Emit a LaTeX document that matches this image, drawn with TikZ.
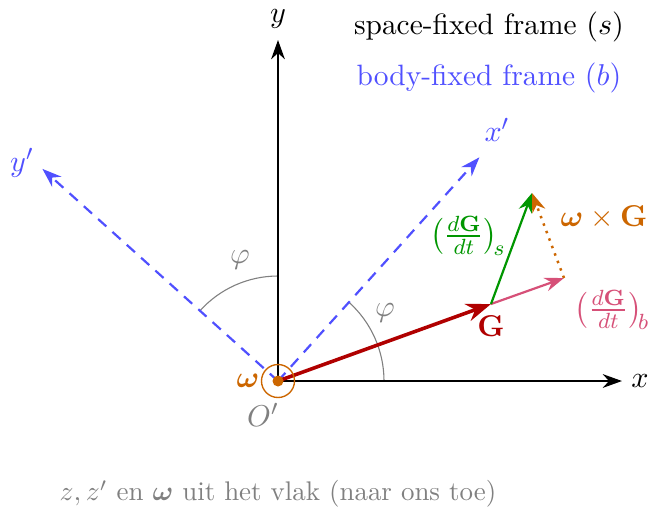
\documentclass[tikz,border=0pt]{standalone}
\usepackage{amsmath,bm}
\usetikzlibrary{arrows.meta}
\definecolor{bodyblue}{RGB}{80,80,255}
\definecolor{gred}{RGB}{176,0,0}
\definecolor{ggreen}{RGB}{0,150,0}
\definecolor{gpink}{RGB}{214,80,120}
\definecolor{gorange}{RGB}{204,102,0}
\tikzset{
  axis/.style={line width=0.8pt,-{Stealth[length=7pt,width=5pt]}},
  bodyaxis/.style={bodyblue,dashed,line width=0.8pt,dash pattern=on 4pt off 3pt,-{Stealth[length=7pt,width=5pt]}},
  anglearc/.style={gray,line width=0.4pt},
  vec/.style={line width=0.8pt,-{Stealth[length=7pt,width=5pt]}},
  lbl/.style={font=\fontsize{11}{13}\selectfont},
  toptxt/.style={font=\fontsize{10.7}{13}\selectfont},
  bottxt/.style={font=\fontsize{9.8}{12}\selectfont},
}
\begin{document}
\begin{tikzpicture}[x=0.3636pt,y=0.3636pt]
\useasboundingbox (-278,-125) rectangle (373,381);
\coordinate (O) at (0,0);
\coordinate (xe) at (344,0);
\coordinate (ye) at (0,341);
\coordinate (xpe) at (48:301);
\coordinate (ype) at (138:317);
\coordinate (G) at (213,77);
\coordinate (Gb) at (286,103);
\coordinate (Gs) at (254,188);
% angle arcs
\draw[anglearc] (106,0) arc[start angle=0,end angle=48,radius=106];
\draw[anglearc] (0,105) arc[start angle=90,end angle=138,radius=105];
\node[gray,lbl] (phi1) at (107,68) {$\varphi$};
\node[gray,lbl] (phi2) at (-38,121) {$\varphi$};
% axes
\draw[bodyaxis] (O) -- (xpe);
\draw[bodyaxis] (O) -- (ype);
\draw[axis] (O) -- (xe);
\draw[axis] (O) -- (ye);
\node[lbl] (xl) at (362,0) {$x$};
\node[lbl] (yl) at (0,362) {$y$};
\node[bodyblue,lbl] (xpl) at (219,251) {$x'$};
\node[bodyblue,lbl] (ypl) at (-256,218) {$y'$};
% vectors
\draw[gred,line width=1.3pt,-{Stealth[length=9pt,width=6.5pt]}] (O) -- (G);
\draw[vec,gpink] (G) -- (Gb);
\draw[vec,ggreen] (G) -- (Gs);
\draw[gorange,line width=0.9pt,dotted,-{Stealth[length=7pt,width=5pt]}] (Gb) -- (Gs);
% omega
\draw[gorange,line width=0.5pt] (O) circle[radius=16.5];
\fill[gorange] (O) circle[radius=5.5];
\node[gorange,lbl] (wl) at (-30,0) {$\bm{\omega}$};
\node[gray,lbl] (Ol) at (-15,-34) {$O'$};
% labels
\node[gred,lbl] (Gl) at (213,55) {$\mathbf{G}$};
\node[gpink,lbl] (Gbl) at (334,71) {$\left(\frac{d\mathbf{G}}{dt}\right)_{\!b}$};
\node[ggreen,lbl] (Gsl) at (190,145) {$\left(\frac{d\mathbf{G}}{dt}\right)_{\!s}$};
\node[gorange,lbl] (wG) at (326,164) {$\bm{\omega}\times\mathbf{G}$};
\node[toptxt] (sf) at (211,354) {space-fixed frame $(s)$};
\node[bodyblue,toptxt] (bf) at (211,303) {body-fixed frame $(b)$};
\node[gray,bottxt] (note) at (0,-113) {$z, z'$ en $\bm{\omega}$ uit het vlak (naar ons toe)};
\end{tikzpicture}
\end{document}
